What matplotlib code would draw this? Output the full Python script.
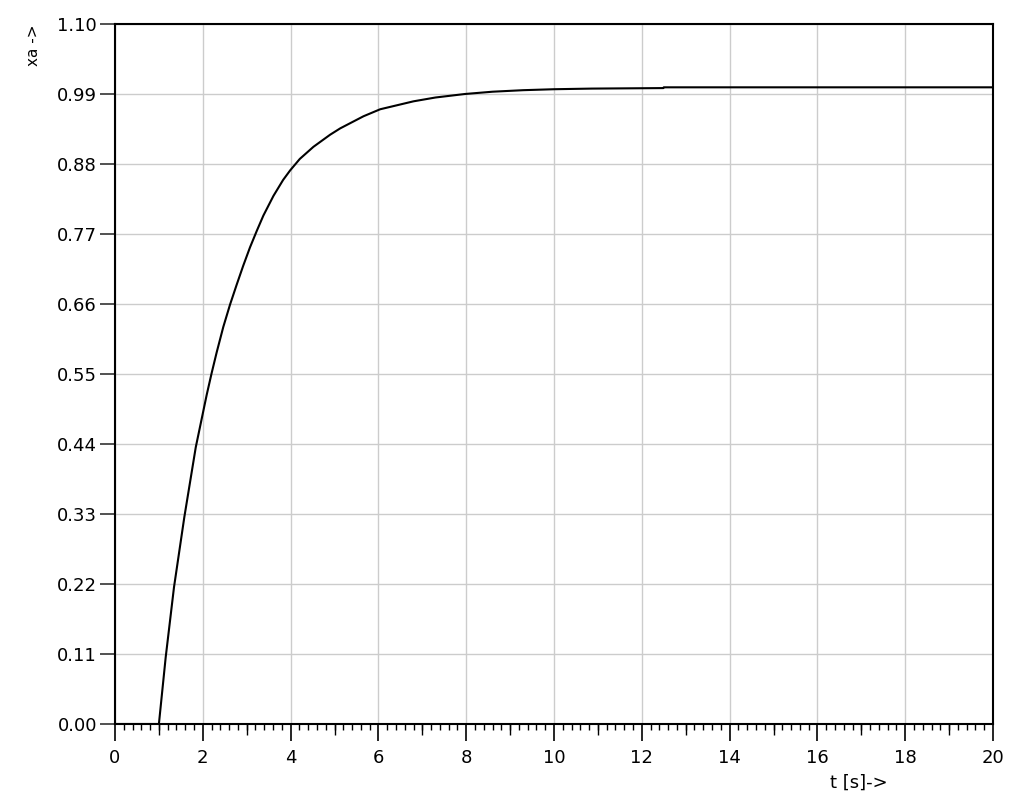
import matplotlib
matplotlib.use("Agg")
import matplotlib.pyplot as plt
from matplotlib.ticker import MultipleLocator, FixedLocator, NullFormatter

plt.rcParams['font.family'] = ['DejaVu Sans']

# data
t_values = [0.0, 1.0, 1.155, 1.344, 1.579, 1.84, 2.088, 2.20, 2.316, 2.467,
            2.62, 2.77, 2.92, 3.075, 3.23, 3.38, 3.61, 3.83, 3.99, 4.21, 4.52,
            4.90, 5.13, 5.66, 6.04, 6.80, 7.30, 7.97, 8.6, 9.3, 10.0, 10.86,
            12.49, 12.5, 20.0]
xa_values = [0.0, 0.0, 0.105, 0.215, 0.325, 0.435, 0.517, 0.551, 0.584, 0.624,
             0.659, 0.690, 0.720, 0.749, 0.775, 0.799, 0.830, 0.855, 0.870, 0.888,
             0.907, 0.926, 0.936, 0.955, 0.966, 0.9785, 0.9845, 0.990, 0.9936,
             0.996, 0.9975, 0.9985, 0.9993, 1.0005, 1.0005]
y_ticks = [0.00, 0.11, 0.22, 0.33, 0.44, 0.55, 0.66, 0.77, 0.88, 0.99, 1.10]
x_ticks = [0, 2, 4, 6, 8, 10, 12, 14, 16, 18, 20]
x_mid_ticks = [1, 3, 5, 7, 9, 11, 13, 15, 17, 19]

W, H = 1011, 801
fig = plt.figure(figsize=(W / 100, H / 100), dpi=100)
left, right, top, bottom = 115, 993, 24, 724
ax = fig.add_axes([left / W, 1 - bottom / H, (right - left) / W, (bottom - top) / H])

ax.plot(t_values, xa_values, color='black', lw=1.5, zorder=3,
        solid_joinstyle='round')

ax.set_xlim(0, 20)
ax.set_ylim(0, 1.10)
ax.set_xticks(x_ticks)
ax.set_xticklabels([str(v) for v in x_ticks])
ax.set_yticks(y_ticks)
ax.set_yticklabels([f"{v:.2f}" for v in y_ticks])
ax.xaxis.set_minor_locator(MultipleLocator(0.2))
ax.grid(True, which='major', color='#cccccc', lw=1.0, zorder=0)

for s in ax.spines.values():
    s.set_color('black')
    s.set_linewidth(1.5)

ax.tick_params(axis='x', which='major', direction='out', length=12, width=1.2,
               pad=6, labelsize=13, color='black')
ax.tick_params(axis='x', which='minor', direction='out', length=4.3, width=1.0,
               color='black')
ax.tick_params(axis='y', which='major', direction='out', length=11, width=1.2,
               pad=2, labelsize=13, color='#333333')

sec = ax.secondary_xaxis('bottom')
sec.xaxis.set_major_locator(FixedLocator(x_mid_ticks))
sec.xaxis.set_major_formatter(NullFormatter())
sec.tick_params(axis='x', which='major', direction='out', length=7.7, width=1.0,
                color='black')
sec.tick_params(axis='x', which='minor', length=0)
sec.spines['bottom'].set_visible(False)

fig.text(33 / W, 1 - 25 / H, 'xa ->', rotation=90, ha='center', va='top', fontsize=11)
fig.text(859 / W, 1 - 783 / H, 't [s]->', ha='center', va='center', fontsize=13)

fig.savefig('out.png', dpi=100)
